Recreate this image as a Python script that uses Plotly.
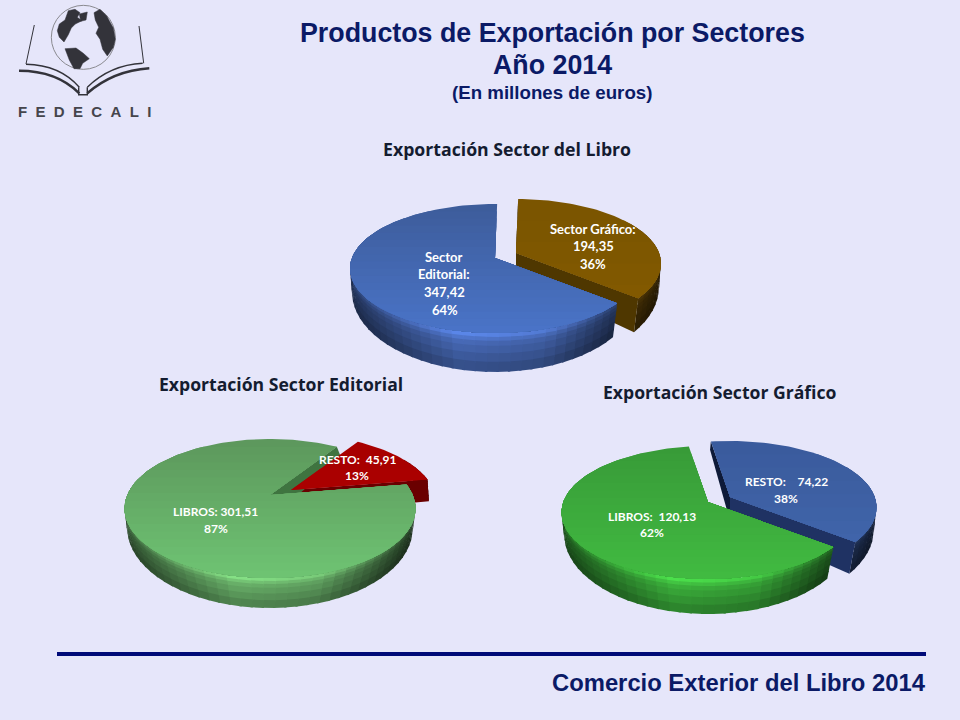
import math
import plotly.graph_objects as go

# ---- data ----
libro_labels = ["Sector Gráfico", "Sector Editorial"]
libro_values = [194.35, 347.42]
editorial_labels = ["RESTO", "LIBROS"]
editorial_values = [45.91, 301.51]
grafico_labels = ["RESTO", "LIBROS"]
grafico_values = [74.22, 120.13]

main_title = ["Productos de Exportación por Sectores", "Año 2014", "(En millones de euros)"]
chart_titles = ["Exportación Sector del Libro", "Exportación Sector Editorial", "Exportación Sector Gráfico"]
footer = "Comercio Exterior del Libro 2014"

BG = "#e6e6fa"
NAVY = "#0b1a66"
INK = "#141c30"


def hex2rgb(h):
    return tuple(int(h[i:i + 2], 16) for i in (1, 3, 5))


def mix(a, b, f):
    return "rgb(%d,%d,%d)" % tuple(round(x + (y - x) * f) for x, y in zip(hex2rgb(a), hex2rgb(b)))


def scale(h, f):
    return "rgb(%d,%d,%d)" % tuple(min(255, round(x * f)) for x in hex2rgb(h))


fig = go.Figure()


def poly(xs, ys, color):
    fig.add_trace(go.Scatter(x=list(xs) + [xs[0]], y=list(ys) + [ys[0]], mode="lines", fill="toself",
                             fillcolor=color, line=dict(color=color, width=0),
                             hoverinfo="skip", showlegend=False))


def clip_below(pts, y0):
    """Keep the part of a polygon that lies under the horizontal y0 (pixel y >= y0)."""
    out = []
    for i, p in enumerate(pts):
        q = pts[(i + 1) % len(pts)]
        if p[1] >= y0:
            out.append(p)
        if (p[1] >= y0) != (q[1] >= y0):
            f = (y0 - p[1]) / (q[1] - p[1])
            out.append((p[0] + (q[0] - p[0]) * f, y0))
    return out


def project(t, ax, ay, rx, back, front, off):
    # a disc seen in perspective: angles are true angles on the disc
    k = (front - back) / (front + back)
    s = rx * math.sqrt(1 - k * k)
    a = back * (1 + k)
    r = math.radians(t)
    d = 1 + k * math.cos(r)
    return (ax + off[0] + s * math.sin(r) / d, ay + off[1] - a * math.cos(r) / d)


class Pie:
    def __init__(self, g, values, t0):
        self.g = g
        tot = sum(values)
        self.spans = []
        t = t0
        for v in values:
            self.spans.append((t, t + 360 * v / tot))
            t += 360 * v / tot

    def top(self, t, off):
        g = self.g
        return project(t, g["ax"], g["ay"], g["rx"], g["back"], g["front"], off)

    def bot(self, t, off):
        g = self.g
        d = g["adepth"]
        return project(t, g["ax"], g["ay"] + d, g["rxb"], g["back"] + d - g["dback"], g["front"] + g["dfront"] - d, off)

    def apex(self, off):
        return (self.g["ax"] + off[0], self.g["ay"] + off[1])

    def draw_top(self, i, off, dark, light, bands=18):
        a, b = self.spans[i]
        n = max(8, int((b - a) / 2))
        pts = [self.apex(off)] + [self.top(a + (b - a) * k / n, off) for k in range(n + 1)]
        ylo, yhi = self.g["ay"] - self.g["back"] + off[1], self.g["ay"] + self.g["front"] + off[1]
        for k in range(bands):
            y0 = ylo + (yhi - ylo) * k / bands
            c = clip_below(pts, y0)
            if len(c) >= 3:
                poly([p[0] for p in c], [p[1] for p in c], mix(dark, light, (k + .5) / bands))

    def draw_side(self, i, off, base, seg=4):
        a, b = self.spans[i]
        lo, hi = max(a, 60), min(b, 300)
        if hi <= lo:
            return
        n = max(2, int((hi - lo) / seg))
        step = (hi - lo) / n
        layers = [(0, .1, 1.3), (.1, .2, 1.14), (.2, .33, 1.02), (.33, .52, .95), (.52, .74, .87), (.74, 1, .78)]
        for k in range(n):
            t0 = lo + step * k
            t1 = min(hi, t0 + step * 1.2)
            u = (self.top(t0 + step / 2, (0, 0))[0] - self.g["ax"]) / self.g["rx"]
            if u < -0.25:
                f = 1.0 - 0.5 * (-u - 0.25) / 0.75
            elif u < 0.35:
                f = 1.0 - 0.1 * (u + 0.25) / 0.6
            else:
                f = 0.9 - 0.58 * (u - 0.35) / 0.65
            p = [self.top(t0, off), self.top(t1, off), self.bot(t1, off), self.bot(t0, off)]
            for v0, v1, g in layers:
                v2 = min(1, v1 + .05)
                q = lambda s, e, v: (s[0] + (e[0] - s[0]) * v, s[1] + (e[1] - s[1]) * v)
                a0, a1, a2, a3 = q(p[0], p[3], v0), q(p[1], p[2], v0), q(p[1], p[2], v2), q(p[0], p[3], v2)
                poly([a0[0], a1[0], a2[0], a3[0]], [a0[1], a1[1], a2[1], a3[1]], scale(base, f * g))

    def draw_cut(self, i, which, off, color):
        t = self.spans[i][which]
        ap = self.apex(off)
        tp = self.top(t, off)
        bp = self.bot(t, off)
        d = self.g["adepth"]
        poly([ap[0], tp[0], bp[0], ap[0]], [ap[1], tp[1], bp[1], ap[1] + d], color)


# ---- geometry of the three tilted pies (pixels of the 960x720 slide) ----
g1 = dict(ax=495, ay=258, rx=145, back=54, front=75, adepth=24, dback=8, dfront=39, rxb=143)
g2 = dict(ax=270, ay=495, rx=145.5, back=56, front=83, adepth=24, dback=8, dfront=30, rxb=143)
g3 = dict(ax=708, ay=502, rx=146.5, back=56, front=77, adepth=24, dback=8, dfront=35, rxb=144)

# Libro
p = Pie(g1, libro_values, 1)
o = (21, -5)
p.draw_cut(0, 0, o, "#0c0800")
p.draw_side(0, o, "#80590a")
p.draw_cut(0, 1, o, "#4f3700")
p.draw_top(0, o, "#7a5400", "#845b00", bands=6)
p.draw_side(1, (0, 0), "#4668b4")
p.draw_top(1, (0, 0), "#3d5c9a", "#4a74c8")

# Editorial
p = Pie(g2, editorial_values, 33)
o = (21, -5)
p.draw_side(0, o, "#a00000")
p.draw_cut(0, 1, o, "#6a0000")
p.draw_side(1, (0, 0), "#67ad67")
p.draw_cut(1, 1, (0, 0), "#3f7440")
p.draw_top(0, o, "#a80000", "#ac0000", bands=4)
p.draw_top(1, (0, 0), "#5c975c", "#6fc473")

# Grafico
p = Pie(g3, grafico_values, -8.8)
o = (22, -5)
p.draw_cut(0, 0, o, "#0e1a38")
p.draw_side(0, o, "#3a5a9c")
p.draw_cut(0, 1, o, "#1f3263")
p.draw_top(0, o, "#3a5a9c", "#4268ae", bands=10)
p.draw_side(1, (0, 0), "#3aac3a")
p.draw_top(1, (0, 0), "#389a38", "#41bb41")


def num(v):
    return f"{v:.2f}".replace(".", ",")


def pct(v, vs):
    return f"{round(100 * v / sum(vs))}%"


def text(x, y, s, size, color, fam="Lato", bold=True, anchor="center"):
    fig.add_annotation(x=x, y=y, xref="x", yref="y", text=f"<b>{s}</b>" if bold else s, showarrow=False,
                       xanchor=anchor, yanchor="middle",
                       font=dict(family=fam, size=size, color=color))


W = "#ffffff"
S = 13
text(593, 229, "Sector Gráfico:", S, W)
text(593, 246, num(libro_values[0]), S, W)
text(593, 264, pct(libro_values[0], libro_values), S, W)
text(444, 257, "Sector", S, W)
text(444, 274, "Editorial:", S, W)
text(444, 292, num(libro_values[1]), S, W)
text(445, 310, pct(libro_values[1], libro_values), S, W)
text(357, 459, f"RESTO:&nbsp;&nbsp;{num(editorial_values[0])}", 12, W)
text(357, 475, pct(editorial_values[0], editorial_values), 12, W)
text(215, 511, f"LIBROS: {num(editorial_values[1])}", 12, W)
text(216, 528, pct(editorial_values[1], editorial_values), 12, W)
text(786, 481, f"RESTO:&nbsp;&nbsp;&nbsp;&nbsp;{num(grafico_values[0])}", 12, W)
text(786, 498, pct(grafico_values[0], grafico_values), 12, W)
text(652, 516, f"LIBROS:&nbsp;&nbsp;{num(grafico_values[1])}", 12, W)
text(652, 532, pct(grafico_values[1], grafico_values), 12, W)

A = "Liberation Sans"
text(552, 33, main_title[0], 26.8, NAVY, A)
text(552, 65, main_title[1], 26.8, NAVY, A)
text(552, 92, main_title[2], 18.7, NAVY, A)
text(507, 149, chart_titles[0], 17.7, INK, "Open Sans")
text(281, 384, chart_titles[1], 17.6, INK, "Open Sans")
text(720, 392, chart_titles[2], 17.6, INK, "Open Sans")
text(928, 682, footer, 23.8, NAVY, A, anchor="right")

# ---- logo (decorative) ----
LOGO = "#33333a"


def z(*pts):
    return [(x / 3, y / 3) for x, y in pts]


def path(pts, close=True):
    return "M " + " L ".join(f"{x:.1f},{y:.1f}" for x, y in pts) + (" Z" if close else "")


def qpath(a, c, b):
    (ax, ay), (cx, cy), (bx, by) = z(a, c, b)
    return f"M {ax:.1f},{ay:.1f} Q {cx:.1f},{cy:.1f} {bx:.1f},{by:.1f}"


shapes = [dict(type="circle", xref="x", yref="y", x0=250 / 3 - 32, x1=250 / 3 + 32, y0=112 / 3 - 32, y1=112 / 3 + 32,
               line=dict(color="#8a8a90", width=1), fillcolor="rgba(0,0,0,0)", layer="above")]
continents = [
    z((205, 32), (225, 28), (240, 38), (232, 52), (246, 62), (226, 72), (214, 84), (205, 104), (192, 126), (178, 112),
      (172, 92), (178, 72), (195, 60)),
    z((195, 146), (228, 144), (250, 160), (268, 176), (248, 190), (240, 206), (222, 206), (208, 180)),
    z((282, 38), (300, 28), (320, 48), (340, 84), (346, 118), (340, 142), (322, 168), (308, 148), (300, 118), (288, 100),
      (296, 82), (286, 60)),
    z((238, 42), (262, 36), (258, 60), (242, 64)),
]
for c in continents:
    shapes.append(dict(type="path", xref="x", yref="y", path=path(c), fillcolor=LOGO, line=dict(color=LOGO, width=0.5),
                       layer="above"))
for a, c, b, w in [((57, 212), (170, 212), (238, 280), 2.6), ((78, 193), (180, 195), (238, 262), 1.4),
                   ((448, 205), (340, 212), (262, 280), 2.6), ((428, 190), (330, 195), (262, 262), 1.4)]:
    shapes.append(dict(type="path", xref="x", yref="y", path=qpath(a, c, b), line=dict(color=LOGO, width=w),
                       layer="above"))
for seg, w in [(z((103, 75), (78, 192)), 1), (z((417, 78), (431, 190)), 1), (z((236, 262), (236, 284), (262, 284), (262, 262)), 1.4)]:
    shapes.append(dict(type="path", xref="x", yref="y", path=path(seg, False), line=dict(color=LOGO, width=w),
                       layer="above"))
# footer rule
shapes.append(dict(type="line", xref="x", yref="y", x0=57, x1=926, y0=654, y1=654, line=dict(color="#000a78", width=4)))
fig.update_layout(shapes=shapes)
text(84, 111, "F&nbsp;&nbsp;E&nbsp;&nbsp;D&nbsp;&nbsp;E&nbsp;&nbsp;C&nbsp;&nbsp;A&nbsp;&nbsp;L&nbsp;&nbsp;I", 15, "#45454c", A)

fig.update_layout(width=960, height=720, margin=dict(l=0, r=0, t=0, b=0), paper_bgcolor=BG, plot_bgcolor=BG,
                  showlegend=False,
                  xaxis=dict(range=[0, 960], visible=False, fixedrange=True),
                  yaxis=dict(range=[720, 0], visible=False, fixedrange=True))
fig.write_html("out.html", config=dict(displayModeBar=False),
               post_script="document.body.style.margin='0';document.documentElement.style.overflow='hidden';")
